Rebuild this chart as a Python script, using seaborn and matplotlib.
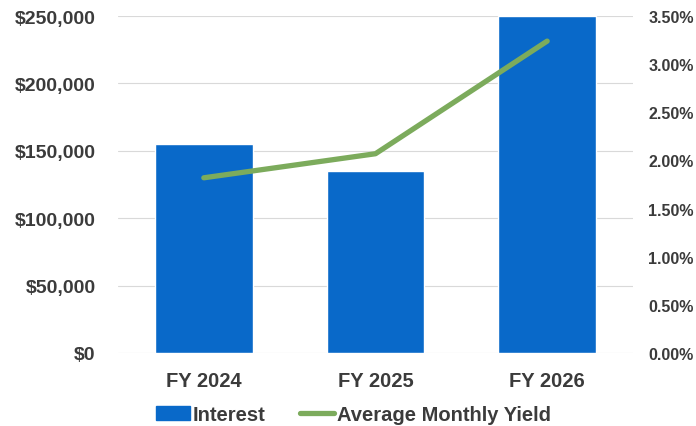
import matplotlib
matplotlib.use('Agg')
import matplotlib.pyplot as plt
import seaborn as sns
import pandas as pd
from matplotlib.ticker import FuncFormatter, MultipleLocator
from matplotlib.patches import Patch
from matplotlib.lines import Line2D

# data
years     = ['FY 2024', 'FY 2025', 'FY 2026']
interest  = [155000, 135000, 250000]
yield_pct = [1.82, 2.07, 3.24]

BLUE  = '#0969c9'
GREEN = '#7cab5c'
TEXT  = '#3b3b3b'

sns.set_theme(style='white')
plt.rcParams['font.family'] = ['Liberation Sans', 'DejaVu Sans']
plt.rcParams['font.weight'] = 'bold'

df = pd.DataFrame({'year': years, 'interest': interest, 'yield': yield_pct})

fig = plt.figure(figsize=(6.96, 4.27), dpi=100)
ax = fig.add_axes([0.1695, 0.171, 0.740, 0.789])

# bars - interest
sns.barplot(data=df, x='year', y='interest', color=BLUE, width=0.57,
            saturation=1, ax=ax, zorder=2)
ax.set_ylim(0, 250000)
ax.set_xlim(-0.5, 2.5)
ax.yaxis.set_major_locator(MultipleLocator(50000))
ax.yaxis.set_major_formatter(FuncFormatter(lambda v, _: f'${v:,.0f}'))
ax.grid(axis='y', color='#d9d9d9', linewidth=0.8, zorder=0)
ax.set_xlabel('')
ax.set_ylabel('')
for s in ax.spines.values():
    s.set_visible(False)
ax.tick_params(axis='both', length=0, labelcolor=TEXT)
ax.tick_params(axis='y', pad=16, labelsize=14)
ax.tick_params(axis='x', pad=13, labelsize=14.5)

# line - yield on secondary axis
ax2 = ax.twinx()
sns.lineplot(data=df, x='year', y='yield', color=GREEN, linewidth=3.8,
             ax=ax2, zorder=3, legend=False)
ax2.set_ylim(0, 3.5)
ax2.yaxis.set_major_locator(MultipleLocator(0.5))
ax2.yaxis.set_major_formatter(FuncFormatter(lambda v, _: f'{v:.2f}%'))
ax2.set_ylabel('')
for s in ax2.spines.values():
    s.set_visible(False)
ax2.tick_params(axis='y', length=0, labelsize=11.5, labelcolor=TEXT, pad=11)

handles = [Patch(color=BLUE, label='Interest'),
           Line2D([0], [0], color=GREEN, linewidth=3.8, label='Average Monthly Yield')]
fig.legend(handles=handles, loc='lower center', bbox_to_anchor=(0.508, -0.038),
           ncol=2, frameon=False, fontsize=14.5, handlelength=1.7,
           handletextpad=0.15, columnspacing=1.7, labelcolor=TEXT)

fig.savefig('out.png', dpi=100)
